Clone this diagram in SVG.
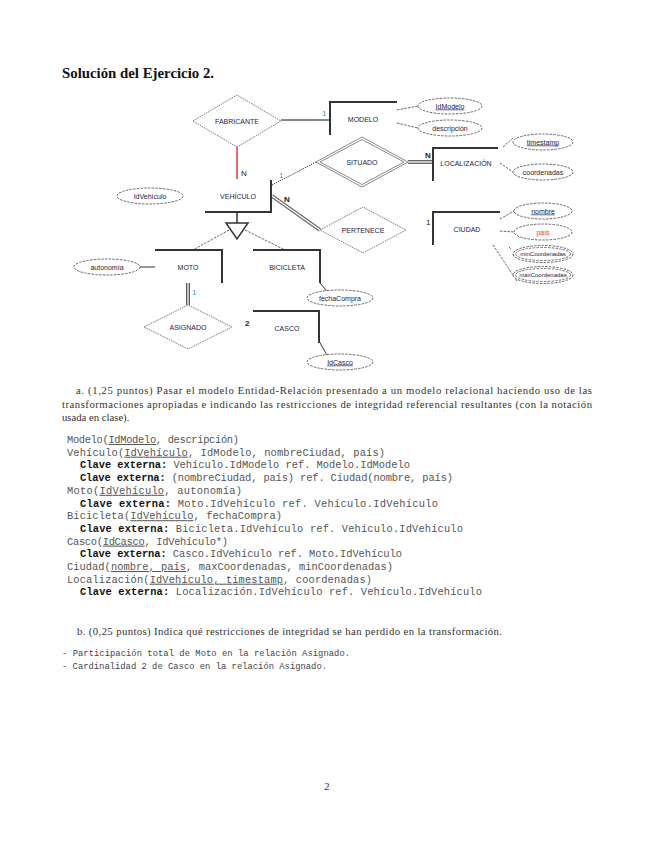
<svg xmlns="http://www.w3.org/2000/svg" width="655" height="848" viewBox="0 0 655 848">
<style>
.lbl{font-family:"Liberation Sans",Arial,sans-serif;font-size:7px;fill:#1e2240;text-anchor:middle}
.sm{font-size:6px}
.card{font-family:"Liberation Sans",Arial,sans-serif;font-size:8px;fill:#222}
.cy{fill:#2aa6c8}
.ent{fill:none;stroke:#333;stroke-width:2}
.rel{fill:#fff;stroke:#777;stroke-width:1;stroke-dasharray:1.5 1}
.att{fill:#fff;stroke:#555;stroke-width:0.9;stroke-dasharray:2.5 1.2}
.dl{stroke:#555;stroke-width:0.9;stroke-dasharray:2.5 1.2;fill:none}
.sl{stroke:#333;stroke-width:1;fill:none}
.serif{font-family:"Liberation Serif","Times New Roman",serif;font-size:10.7px;font-weight:normal;fill:#333}
.code{font-family:"Liberation Mono","Courier New",monospace;font-size:10.4px;fill:#555}
.code .k{font-weight:bold;fill:#111}
.list{font-family:"Liberation Mono","Courier New",monospace;font-size:8.8px;fill:#444}
</style>
<rect width="655" height="848" fill="#fff"/>
<text x="62" y="78" font-family="Liberation Serif,serif" font-weight="bold" font-size="14" fill="#111" textLength="152" lengthAdjust="spacingAndGlyphs">Solución del Ejercicio 2.</text>

<g id="connectors">
  <line x1="281" y1="120" x2="330" y2="120" stroke="#111" stroke-width="1"/>
  <line x1="237" y1="147" x2="237" y2="179" stroke="#e33" stroke-width="1.5"/>
  <line x1="272" y1="185" x2="316" y2="162" stroke="#333" stroke-width="1" stroke-dasharray="1.2 1"/>
  <line x1="408" y1="162" x2="433" y2="162" stroke="#444" stroke-width="3.6"/>
  <line x1="408" y1="162" x2="433" y2="162" stroke="#fff" stroke-width="1.4"/>
  <line x1="272" y1="196" x2="320" y2="230" stroke="#666" stroke-width="3.6"/>
  <line x1="272" y1="196" x2="320" y2="230" stroke="#fff" stroke-width="1.4"/>
  <line x1="237" y1="212" x2="237" y2="223" stroke="#333" stroke-width="1.5"/>
  <line x1="229" y1="230" x2="193" y2="250" class="dl"/>
  <line x1="245" y1="230" x2="285" y2="250" class="dl"/>
  <line x1="188" y1="283" x2="188" y2="305" stroke="#333" stroke-width="3.6"/>
  <line x1="188" y1="283" x2="188" y2="305" stroke="#fff" stroke-width="1.4"/>
  <line x1="140" y1="267" x2="155" y2="267" class="sl"/>
  <line x1="320" y1="283" x2="327" y2="291" class="sl"/>
  <line x1="319" y1="341" x2="327" y2="355" class="sl"/>
  <line x1="397" y1="110" x2="418" y2="106" class="dl"/>
  <line x1="397" y1="123" x2="418" y2="128" class="dl"/>
  <line x1="503" y1="147" x2="513" y2="138" class="dl"/>
  <line x1="500" y1="163" x2="513" y2="172" class="dl"/>
  <line x1="500" y1="219" x2="514" y2="211" class="dl"/>
  <line x1="500" y1="231" x2="514" y2="232" class="dl"/>
  <line x1="509" y1="247" x2="511" y2="249" class="dl"/>
  <line x1="493" y1="245" x2="517" y2="281" class="dl"/>
</g>

<g id="fabricante">
  <polygon class="rel" points="193,121 237,95 281,121 237,147"/>
  <text class="lbl" x="237" y="123.5">FABRICANTE</text>
</g>
<g id="modelo">
  <polyline class="ent" points="397,102 330,102 330,135"/>
  <text class="lbl" x="363" y="121.5">MODELO</text>
  <text class="card cy" x="322" y="116" font-size="7">1</text>
</g>
<g id="idModelo">
  <ellipse class="att" cx="450" cy="106" rx="32" ry="8"/>
  <text class="lbl" x="450" y="108.5" text-decoration="underline">IdModelo</text>
</g>
<g id="descripcion">
  <ellipse class="att" cx="450" cy="128" rx="32" ry="8"/>
  <text class="lbl" x="450" y="130.5">descripción</text>
</g>
<g id="situado">
  <polygon points="316,162 362,137 408,162 362,187" fill="#fff" stroke="#888" stroke-width="1"/>
  <polygon points="320,162 362,139.5 404,162 362,184.5" fill="none" stroke="#888" stroke-width="1"/>
  <text class="lbl" x="362" y="164.5">SITUADO</text>
</g>
<g id="localizacion">
  <polyline class="ent" points="498,148 433,148 433,181"/>
  <text class="lbl" x="466" y="165.5">LOCALIZACIÓN</text>
  <text class="card" x="425" y="158" font-size="7.5" font-weight="bold">N</text>
</g>
<g id="timestamp">
  <ellipse class="att" cx="543" cy="142" rx="30" ry="8"/>
  <text class="lbl" x="543" y="144.5" text-decoration="underline">timestamp</text>
</g>
<g id="coordenadas">
  <ellipse class="att" cx="543" cy="172" rx="30" ry="8"/>
  <text class="lbl" x="543" y="174.5">coordenadas</text>
</g>
<g id="vehiculo">
  <polyline class="ent" points="205,212 271,212 271,180"/>
  <text class="lbl" x="238" y="198.5">VEHÍCULO</text>
  <text class="card" x="241" y="176" font-size="7.5">N</text>
  <text class="card cy" x="279" y="178" font-size="7">1</text>
  <text class="card" x="284" y="202" font-size="7.5" font-weight="bold">N</text>
</g>
<g id="idVehiculo">
  <ellipse class="att" cx="150" cy="196" rx="33" ry="8"/>
  <text class="lbl" x="150" y="198.5">IdVehículo</text>
</g>
<g id="isa">
  <polygon points="226,223 248,223 237,239" fill="#fff" stroke="#333" stroke-width="1.5"/>
</g>
<g id="pertenece">
  <polygon class="rel" points="320,230 363,207 406,230 363,253"/>
  <text class="lbl" x="363" y="232.5">PERTENECE</text>
</g>
<g id="ciudad">
  <polyline class="ent" points="500,212 433,212 433,245"/>
  <text class="lbl" x="467" y="231.5">CIUDAD</text>
  <text class="card" x="426" y="225" font-size="7" fill="#335">1</text>
</g>
<g id="nombre">
  <ellipse class="att" cx="543" cy="211" rx="29" ry="8"/>
  <text class="lbl" x="543" y="213.5" text-decoration="underline">nombre</text>
</g>
<g id="pais">
  <ellipse class="att" cx="543" cy="232" rx="29" ry="8"/>
  <text class="lbl" x="543" y="234.5" style="fill:#e8334a">país</text>
</g>
<g id="minCoordenadas">
  <ellipse class="att" cx="543" cy="254" rx="30" ry="8.5"/>
  <ellipse cx="543" cy="254" rx="27.5" ry="6.5" fill="none" stroke="#555" stroke-width="0.8" stroke-dasharray="2.5 1.2"/>
  <text class="lbl sm" x="543" y="256">minCoordenadas</text>
</g>
<g id="maxCoordenadas">
  <ellipse class="att" cx="543" cy="275" rx="30" ry="8.5"/>
  <ellipse cx="543" cy="275" rx="27.5" ry="6.5" fill="none" stroke="#555" stroke-width="0.8" stroke-dasharray="2.5 1.2"/>
  <text class="lbl sm" x="543" y="277">maxCoordenadas</text>
</g>
<g id="moto">
  <polyline class="ent" points="155,250 222,250 222,283"/>
  <text class="lbl" x="188" y="269.5">MOTO</text>
  <text class="card cy" x="192" y="295" font-size="7">1</text>
</g>
<g id="autonomia">
  <ellipse class="att" cx="107" cy="267" rx="33" ry="8"/>
  <text class="lbl" x="107" y="269.5">autonomía</text>
</g>
<g id="bicicleta">
  <polyline class="ent" points="253,250 320,250 320,283"/>
  <text class="lbl" x="287" y="269.5">BICICLETA</text>
</g>
<g id="fechaCompra">
  <ellipse class="att" cx="340" cy="298" rx="33" ry="8"/>
  <text class="lbl" x="340" y="300.5">fechaCompra</text>
</g>
<g id="asignado">
  <polygon class="rel" points="144,327 188,305 232,327 188,349"/>
  <text class="lbl" x="188" y="329.5">ASIGNADO</text>
</g>
<g id="casco">
  <polyline class="ent" points="253,311 319,311 319,343"/>
  <text class="lbl" x="287" y="330.5">CASCO</text>
  <text class="card" x="245" y="326" font-size="7.5" font-weight="bold">2</text>
</g>
<g id="idCasco">
  <ellipse class="att" cx="340" cy="362" rx="33" ry="8"/>
  <text class="lbl" x="340" y="364.5" text-decoration="underline">IdCasco</text>
</g>

<text class="serif" x="76" y="394" textLength="516" lengthAdjust="spacing">a. (1,25 puntos) Pasar el modelo Entidad-Relación presentado a un modelo relacional haciendo uso de las</text>
<text class="serif" x="62" y="408" textLength="530" lengthAdjust="spacing">transformaciones apropiadas e indicando las restricciones de integridad referencial resultantes (con la notación</text>
<text class="serif" x="62" y="421">usada en clase).</text>

<g class="code">
<text x="67" y="443" textLength="172" lengthAdjust="spacing">Modelo(<tspan text-decoration="underline">IdModelo</tspan>, descripción)</text>
<text x="67" y="455.7" textLength="318" lengthAdjust="spacing">Vehículo(<tspan text-decoration="underline">IdVehículo</tspan>, IdModelo, nombreCiudad, país)</text>
<text x="80" y="468.4" textLength="330" lengthAdjust="spacing"><tspan class="k">Clave externa:</tspan> Vehículo.IdModelo ref. Modelo.IdModelo</text>
<text x="80" y="481.1" textLength="373" lengthAdjust="spacing"><tspan class="k">Clave externa:</tspan> (nombreCiudad, país) ref. Ciudad(nombre, país)</text>
<text x="67" y="493.8" textLength="175" lengthAdjust="spacing">Moto(<tspan text-decoration="underline">IdVehículo</tspan>, autonomía)</text>
<text x="80" y="506.5" textLength="358" lengthAdjust="spacing"><tspan class="k">Clave externa:</tspan> Moto.IdVehículo ref. Vehículo.IdVehículo</text>
<text x="67" y="519.2" textLength="215" lengthAdjust="spacing">Bicicleta(<tspan text-decoration="underline">IdVehículo</tspan>, fechaCompra)</text>
<text x="80" y="531.9" textLength="383" lengthAdjust="spacing"><tspan class="k">Clave externa:</tspan> Bicicleta.IdVehículo ref. Vehículo.IdVehículo</text>
<text x="67" y="544.6" textLength="161" lengthAdjust="spacing">Casco(<tspan text-decoration="underline">IdCasco</tspan>, IdVehículo*)</text>
<text x="80" y="557.3" textLength="322" lengthAdjust="spacing"><tspan class="k">Clave externa:</tspan> Casco.IdVehículo ref. Moto.IdVehículo</text>
<text x="67" y="570" textLength="326" lengthAdjust="spacing">Ciudad(<tspan text-decoration="underline">nombre, país</tspan>, maxCoordenadas, minCoordenadas)</text>
<text x="67" y="582.7" textLength="305" lengthAdjust="spacing">Localización(<tspan text-decoration="underline">IdVehículo, timestamp</tspan>, coordenadas)</text>
<text x="80" y="595.4" textLength="402" lengthAdjust="spacing"><tspan class="k">Clave externa:</tspan> Localización.IdVehículo ref. Vehículo.IdVehículo</text>
</g>

<text class="serif" x="77" y="635" textLength="425" lengthAdjust="spacing">b. (0,25 puntos) Indica qué restricciones de integridad se han perdido en la transformación.</text>
<text class="list" x="62" y="656" textLength="288" lengthAdjust="spacing">- Participación total de Moto en la relación Asignado.</text>
<text class="list" x="62" y="668.5" textLength="265" lengthAdjust="spacing">- Cardinalidad 2 de Casco en la relación Asignado.</text>

<text class="serif" x="327" y="790" text-anchor="middle">2</text>
</svg>
